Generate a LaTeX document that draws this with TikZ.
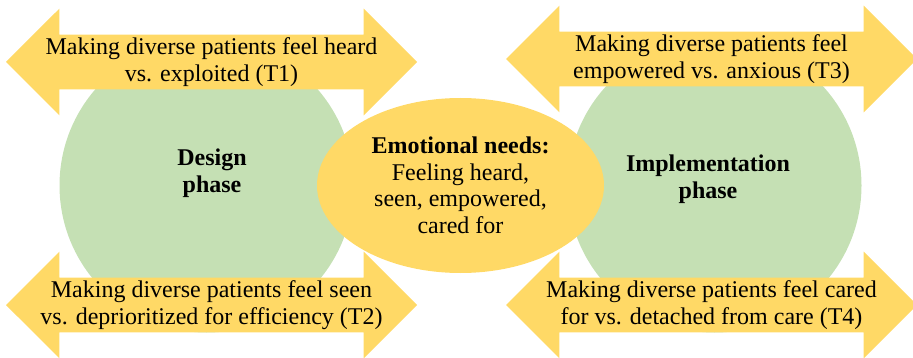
\documentclass[tikz,border=0pt]{standalone}
\usepackage{fontspec}
\setmainfont{Liberation Serif}
\usetikzlibrary{shapes.arrows,shapes.geometric}
\definecolor{gold}{HTML}{FFD966}
\definecolor{sage}{HTML}{C5E0B4}

\begin{document}
\begin{tikzpicture}[x=1pt,y=-1pt,node distance=254pt,font=\fontsize{24}{26.5}\selectfont,
  phase node/.style={circle,fill=sage,minimum size=294pt,inner sep=0pt},
  phase label/.style={align=center,font=\fontsize{24}{26.5}\selectfont\bfseries},
  needs node/.style={ellipse,fill=gold,minimum width=287pt,minimum height=175pt,inner sep=0pt,align=center},
  theme arrow/.style={double arrow,fill=gold,double arrow head extend=26pt,minimum height=411pt,minimum width=106pt,inner xsep=0pt,inner ysep=3pt,align=center}]

  \useasboundingbox (0,0) rectangle (913,358);

  \coordinate (mid) at (460.5,185.5);
  \node[phase node] (D) [left of=mid] {};
  \node[phase node] (I) [right of=mid] {};
  \node[needs node] (N) at (mid) {\textbf{Emotional needs:}\\Feeling heard,\\seen, empowered,\\cared for};

  \node[phase label] (Dtext) at (212,173) {Design\\phase};
  \node[phase label] (Itext) at (708,179) {Implementation\\phase};

  \node[theme arrow] (T1) at (211.5,62) {Making diverse patients feel heard\\vs. exploited (T1)};
  \node[theme arrow] (T3) at (711.5,59) {Making diverse patients feel\\empowered vs. anxious (T3)};
  \node[theme arrow] (T2) at (211.5,305) {Making diverse patients feel seen\\vs. deprioritized for efficiency (T2)};
  \node[theme arrow] (T4) at (711.5,305) {Making diverse patients feel cared\\for vs. detached from care (T4)};
\end{tikzpicture}
\end{document}
